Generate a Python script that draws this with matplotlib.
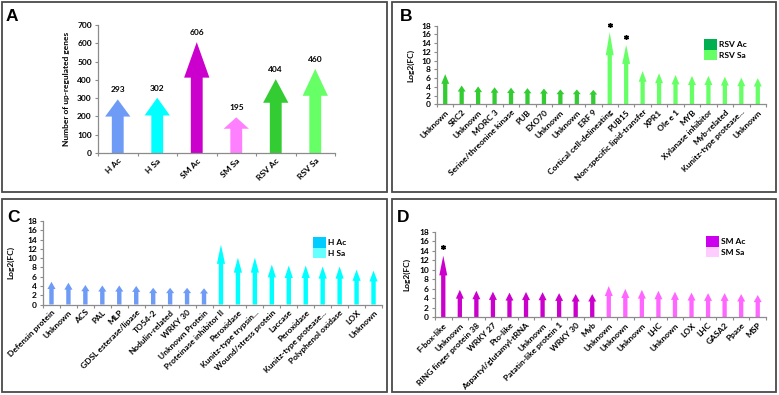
import matplotlib
matplotlib.use('Agg')
import matplotlib.pyplot as plt
from matplotlib.patches import Rectangle, Patch

plt.rcParams['font.family'] = ['Lato', 'DejaVu Sans']
plt.rcParams['font.weight'] = 'bold'

# ---------------- data ----------------
a_groups = ['H Ac', 'H Sa', 'SM Ac', 'SM Sa', 'RSV Ac', 'RSV Sa']
a_counts = [293, 302, 606, 195, 404, 460]
a_colors = ['#6E9BF5', '#00FFFF', '#CC00CC', '#FF80FF', '#33CC33', '#66FF66']

b_genes = ['Unknown', 'SRC2', 'Unknown', 'MORC 3', 'Serine/threonine kinase', 'PUB',
           'EXO70', 'Unknown', 'Unknown', 'ERF 9', 'Cortical cell-delineating', 'PUB15',
           'Non-specific lipid-transfer', 'XPR1', 'Ole e 1', 'MYB', 'Xylanase inhibitor',
           'Myb-related', 'Kunitz-type protease...', 'Unknown']
b_values = [6.9, 4.3, 4.1, 3.9, 3.8, 3.7, 3.6, 3.4, 3.4, 3.3,
            16.5, 13.6, 7.6, 7.1, 6.7, 6.5, 6.5, 6.3, 6.1, 6.0]
b_series = ['RSV Ac'] * 10 + ['RSV Sa'] * 10
b_star_idx = [10, 11]
b_star_y = [18.2, 15.5]

c_genes = ['Defensin protein', 'Unknown', 'ACS', 'PAL', 'MLP', 'GDSL esterase/lipase',
           'TO54-2', 'Nodulin-related', 'WRKY 30', 'Unknown Protein', 'Proteinase inhibitor II',
           'Peroxidase', 'Kunitz-type trypsin...', 'Wound/stress protein', 'Laccase',
           'Peroxidase', 'Kunitz-type protease...', 'Polyphenol oxidase', 'LOX', 'Unknown']
c_values = [4.9, 4.7, 4.2, 4.1, 4.1, 4.0, 3.6, 3.6, 3.6, 3.5,
            12.9, 10.1, 10.1, 8.6, 8.4, 8.4, 8.2, 8.2, 7.5, 7.3]
c_series = ['H Ac'] * 10 + ['H Sa'] * 10

d_genes = ['F-box-like', 'Unknown', 'RING finger protein 38', 'WRKY 27', 'Pto-like',
           'Aspartyl/glutamyl-tRNA', 'Unknown', 'Patatin-like protein 1', 'WRKY 30', 'Myb',
           'Unknown', 'Unknown', 'Unknown', 'LHC', 'Unknown', 'LOX', 'LHC', 'GASA2',
           'Ppase', 'MSP']
d_values = [13.0, 5.8, 5.6, 5.4, 5.2, 5.35, 5.3, 5.1, 4.9, 4.9,
            6.6, 6.0, 5.8, 5.6, 5.4, 5.2, 5.1, 5.1, 4.9, 4.7]
d_series = ['SM Ac'] * 10 + ['SM Sa'] * 10
d_star_idx = [0]
d_star_y = [14.8]

bar_colors = {'RSV Ac': '#33CC33', 'RSV Sa': '#66FF66',
              'H Ac': '#6E9BF5', 'H Sa': '#00FFFF',
              'SM Ac': '#CC00CC', 'SM Sa': '#FF66FF'}
legend_colors = {'RSV Ac': '#00B050', 'RSV Sa': '#66FF66',
                 'H Ac': '#00CCFF', 'H Sa': '#66FFFF',
                 'SM Ac': '#CC00EE', 'SM Sa': '#FFCCFF'}

W, H = 779, 395
fig = plt.figure(figsize=(W / 100, H / 100), dpi=100)
AXIS_GREY = '#8C8C8C'
FS = 6


def px_axes(l, t, r, b):
    return fig.add_axes([l / W, 1 - b / H, (r - l) / W, (b - t) / H])


def style(ax, n, labels, ymax, ystep):
    ax.set_xlim(0, n)
    ax.set_ylim(0, ymax)
    for s in ['top', 'right']:
        ax.spines[s].set_visible(False)
    for s in ['left', 'bottom']:
        ax.spines[s].set_color(AXIS_GREY)
        ax.spines[s].set_linewidth(0.9)
    ax.set_xticks(range(n + 1))
    ax.set_xticklabels([])
    ax.set_xticks([i + 0.5 for i in range(n)], minor=True)
    ax.set_xticklabels(labels, minor=True, rotation=45, ha='right',
                       rotation_mode='anchor', fontsize=FS, fontweight='bold')
    ax.tick_params(axis='x', which='major', length=2.5, color=AXIS_GREY, width=0.8)
    ax.tick_params(axis='x', which='minor', length=0, pad=3)
    ax.set_yticks(range(0, ymax + 1, ystep))
    ax.tick_params(axis='y', length=2.5, color=AXIS_GREY, width=0.8, labelsize=FS, pad=2)
    for t in ax.get_yticklabels():
        t.set_fontweight('bold')
    ax.patch.set_alpha(0)


def arrows(ax, values, colors, body_w, head_w, head_frac=0.32):
    for i, (v, c) in enumerate(zip(values, colors)):
        ax.arrow(i + 0.5, 0, 0, v, width=body_w, head_width=head_w,
                 head_length=head_frac * v, length_includes_head=True,
                 color=c, lw=0)


def legend(ax, names, x, y):
    handles = [Patch(facecolor=legend_colors[n], edgecolor='none', label=n) for n in names]
    ax.legend(handles=handles, loc='upper left', bbox_to_anchor=(x / W, 1 - y / H),
              bbox_transform=fig.transFigure, frameon=False, fontsize=FS,
              handlelength=1.5, handleheight=1.6, labelspacing=0, handletextpad=0.35,
              borderpad=0, borderaxespad=0, prop={'weight': 'bold', 'size': FS})


# ---------------- panel borders ----------------
for (l, t, r, b) in [(2, 2, 387, 192), (392, 2, 776, 192), (2, 199, 387, 392), (392, 199, 776, 392)]:
    fig.add_artist(Rectangle((l / W, 1 - b / H), (r - l) / W, (b - t) / H,
                             transform=fig.transFigure, fill=False,
                             edgecolor='#4A4A4A', lw=1.3))

# ---------------- Panel A ----------------
axA = px_axes(98, 25, 335, 153)
style(axA, len(a_groups), a_groups, 700, 100)
arrows(axA, a_counts, a_colors, body_w=0.30, head_w=0.64)
for i, v in enumerate(a_counts):
    axA.annotate(str(v), (i + 0.5, v), xytext=(0, 4.5), textcoords='offset points',
                 ha='center', va='bottom', fontsize=FS, fontweight='bold')
axA.set_ylabel('Number of up-regulated genes', fontsize=FS, fontweight='bold')
axA.yaxis.set_label_coords(-0.12, 0.5)

# ---------------- Panel B ----------------
axB = px_axes(437, 25.7, 766, 104.3)
style(axB, len(b_genes), b_genes, 18, 2)
arrows(axB, b_values, [bar_colors[s] for s in b_series], body_w=0.26, head_w=0.48)
axB.plot([i + 0.5 for i in b_star_idx], b_star_y, ls='none', marker=(6, 2, 0),
         ms=3.5, mew=1.0, color='black', clip_on=False)
axB.set_ylabel('Log2(FC)', fontsize=FS, fontweight='bold')
axB.yaxis.set_label_coords(-0.07, 0.5)
legend(axB, ['RSV Ac', 'RSV Sa'], 704, 39)

# ---------------- Panel C ----------------
axC = px_axes(43, 221, 382, 304.5)
style(axC, len(c_genes), c_genes, 18, 2)
arrows(axC, c_values, [bar_colors[s] for s in c_series], body_w=0.26, head_w=0.48)
axC.set_ylabel('Log2(FC)', fontsize=FS, fontweight='bold')
axC.yaxis.set_label_coords(-0.083, 0.5)
legend(axC, ['H Ac', 'H Sa'], 313, 237)

# ---------------- Panel D ----------------
axD = px_axes(435, 232, 766, 317.3)
style(axD, len(d_genes), d_genes, 18, 2)
arrows(axD, d_values, [bar_colors[s] for s in d_series], body_w=0.26, head_w=0.48)
axD.plot([i + 0.5 for i in d_star_idx], d_star_y, ls='none', marker=(6, 2, 0),
         ms=3.5, mew=1.0, color='black', clip_on=False)
axD.set_ylabel('Log2(FC)', fontsize=FS, fontweight='bold')
axD.yaxis.set_label_coords(-0.075, 0.5)
legend(axD, ['SM Ac', 'SM Sa'], 706, 236)

# ---------------- panel letters ----------------
for letter, x, y in [('A', 6, 21), ('B', 400, 21), ('C', 7, 222), ('D', 397, 222)]:
    fig.text(x / W, 1 - y / H, letter, fontsize=12.5, fontweight='bold',
             family=['Liberation Sans', 'DejaVu Sans'], ha='left', va='baseline')

fig.savefig('out.png', dpi=100)
